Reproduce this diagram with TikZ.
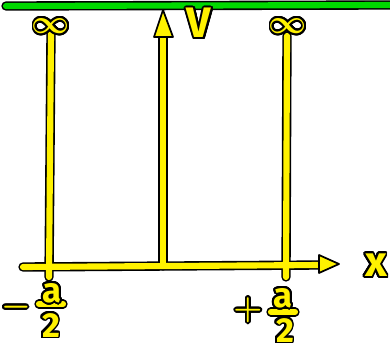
\documentclass[tikz,border=0pt]{standalone}
\usepackage{amsmath}
\usepackage{fontspec}
\setmainfont{Fira Sans}
\usepackage[copies]{contour}
\contourlength{1.4pt}
\contournumber{24}
\tikzset{
  outl/.style={line width=7pt, black, line cap=round, line join=round},
  yel/.style={line width=4.6pt, yellow, line cap=round, line join=round},
  grn/.style={line width=4.6pt, green!85!black, line cap=round},
  lab/.style={inner sep=0pt, font=\fontsize{26}{26}\selectfont\bfseries},
  big/.style={inner sep=0pt, font=\fontsize{32}{32}\selectfont\bfseries},
  tipshape/.style={fill=yellow, draw=black, line width=1.3pt, line join=round}
}
\newcommand{\yl}[1]{\contour{black}{\textcolor{yellow}{#1}}}
\begin{document}
\begin{tikzpicture}[x=0.75pt,y=-0.75pt]
\useasboundingbox (0,0) rectangle (390,345);
\fill[white] (0,0) rectangle (390,345);
% coordinates
\coordinate (gL) at (6,6);
\coordinate (gR) at (392,5);
\coordinate (lTop) at (51,33);
\coordinate (lBot) at (49,277);
\coordinate (cTop) at (163,34);
\coordinate (cBot) at (163,266);
\coordinate (rTop) at (287,36);
\coordinate (rBot) at (286,277);
\coordinate (aL) at (23,267);
\coordinate (aR) at (322,265);
\coordinate (bL1) at (39,304);
\coordinate (bL2) at (63,304);
\coordinate (bR1) at (271,312);
\coordinate (bR2) at (295,312);
% green line
\draw[line width=7pt, black, line cap=round] (gL) -- (gR);
\draw[grn] (gL) -- (gR);
% outlines
\draw[outl] (lTop) -- (lBot);
\draw[outl] (cTop) -- (cBot);
\draw[outl] (rTop) -- (rBot);
\draw[outl] (aL) -- (aR);
\draw[outl] (bL1) -- (bL2);
\draw[outl] (bR1) -- (bR2);
% yellow
\draw[yel] (lTop) -- (lBot);
\draw[yel] (cTop) -- (cBot);
\draw[yel] (rTop) -- (rBot);
\draw[yel] (aL) -- (aR);
\draw[yel] (bL1) -- (bL2);
\draw[yel] (bR1) -- (bR2);
% arrowheads
\draw[tipshape] (163,10) -- (173,37) -- (154,37) -- cycle;
\draw[tipshape] (339,264) -- (319,255) -- (319,273) -- cycle;
% labels
\node[big] (infL) at (51,27) {\yl{$\boldsymbol{\infty}$}};
\node[big] (infR) at (288,27) {\yl{$\boldsymbol{\infty}$}};
\node[big] (V) at (199,24) {\yl{V}};
\node[big] (X) at (376,266) {\yl{x}};
\node[big] (mL) at (16,308) {\yl{$\boldsymbol{-}$}};
\node[lab] (aLa) at (52,294) {\yl{a}};
\node[lab] (aL2) at (51,326) {\yl{2}};
\node[big] (pR) at (248,311) {\yl{$\boldsymbol{+}$}};
\node[lab] (aRa) at (283,299) {\yl{a}};
\node[lab] (aR2) at (285,331) {\yl{2}};
\end{tikzpicture}
\end{document}
